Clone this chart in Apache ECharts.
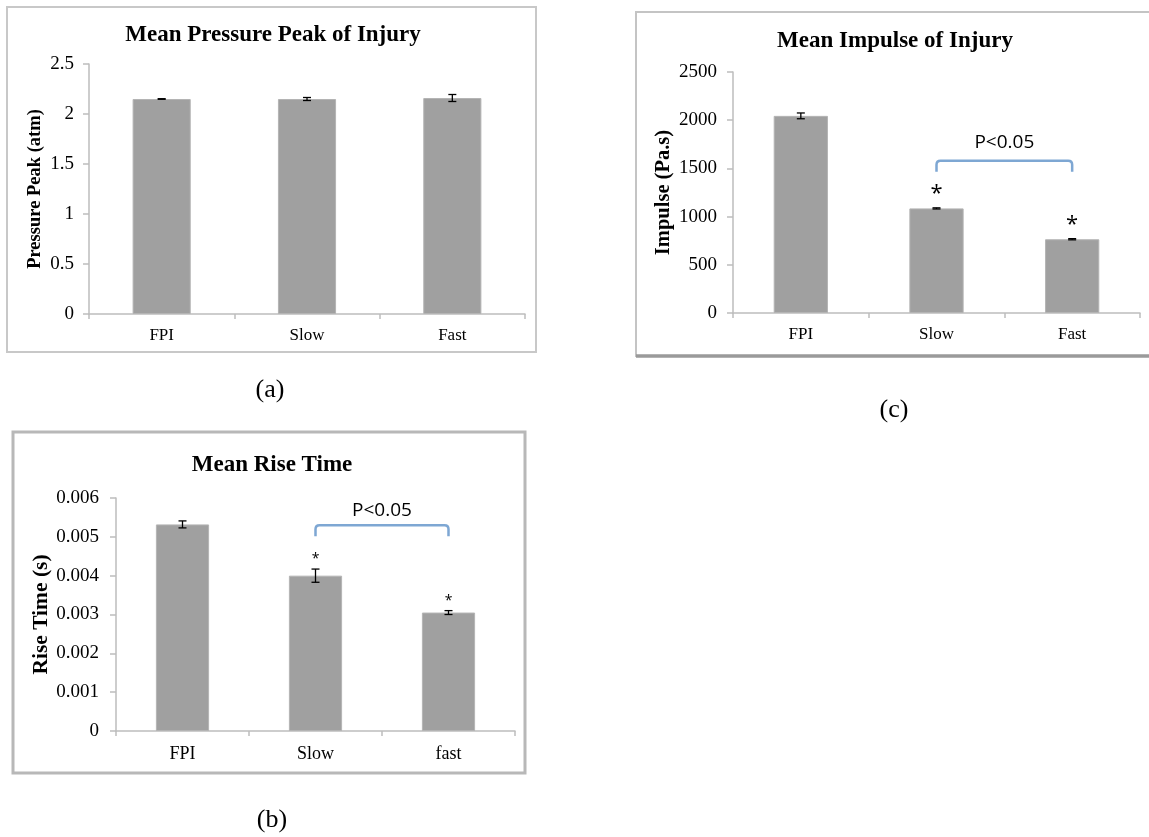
<!DOCTYPE html>
<html>
<head>
<meta charset="utf-8">
<script src="https://cdn.jsdelivr.net/npm/echarts@6/dist/echarts.min.js"></script>
<style>
html,body{margin:0;padding:0;background:#fff;}
#chart{width:1149px;height:837px;}
</style>
</head>
<body>
<div id="chart"></div>
<script>
// ---- data ----
const catsA = ['FPI', 'Slow', 'Fast'];
const meanA = [2.15, 2.15, 2.16];
const errA = [0.003, 0.015, 0.035];

const catsC = ['FPI', 'Slow', 'Fast'];
const meanC = [2045, 1085, 765];
const errC = [30, 6, 6];
const starsC = ['', '*', '*'];
const bracketC = [1, 2, 1580];

const catsB = ['FPI', 'Slow', 'fast'];
const meanB = [0.00532, 0.00400, 0.00305];
const errB = [0.00009, 0.00017, 0.00005];
const starsB = ['', '*', '*'];
const bracketB = [1, 2, 0.0053];

const sigText = 'P<0.05';
const titles = ['Mean Pressure Peak of Injury', 'Mean Impulse of Injury', 'Mean Rise Time'];
const yNames = ['Pressure Peak (atm)', 'Impulse (Pa.s)', 'Rise Time (s)'];
const panelTags = ['(a)', '(c)', '(b)'];

// ---- styles ----
const SERIF = 'Liberation Serif, Times New Roman, serif';
const SANS = 'Open Sans, Liberation Sans, sans-serif';
const AXIS = '#bdbdbd';
const BAR = '#a0a0a0';
const BLUE = '#7ea7d3';

const chart = echarts.init(document.getElementById('chart'), null, {renderer: 'canvas'});

function errRender(params, api) {
  const x = api.value(0);
  const lo = api.coord([x, api.value(1)]);
  const hi = api.coord([x, api.value(2)]);
  const h = 4;
  const st = {stroke: '#000', lineWidth: 1.3};
  return {type: 'group', children: [
    {type: 'line', shape: {x1: hi[0], y1: hi[1], x2: lo[0], y2: lo[1]}, style: st},
    {type: 'line', shape: {x1: hi[0] - h, y1: hi[1], x2: hi[0] + h, y2: hi[1]}, style: st},
    {type: 'line', shape: {x1: lo[0] - h, y1: lo[1], x2: lo[0] + h, y2: lo[1]}, style: st}
  ]};
}
function starRender(stars, size, gap) {
  return function (params, api) {
    const p = api.coord([api.value(0), api.value(1)]);
    return {type: 'text', x: p[0], y: p[1] - gap, style: {
      text: stars[params.dataIndex], fill: '#000', font: size + 'px ' + SANS,
      textAlign: 'center', textVerticalAlign: 'bottom'}};
  };
}
function bracketRender(textGap) {
  return function (params, api) {
    const a = api.coord([api.value(0), api.value(2)]);
    const b = api.coord([api.value(1), api.value(2)]);
    const y = a[1], x1 = a[0], x2 = b[0], r = 4, leg = 11;
    const d = 'M' + x1 + ' ' + (y + leg) + ' L' + x1 + ' ' + (y + r) + ' Q' + x1 + ' ' + y + ' ' + (x1 + r) + ' ' + y +
      ' L' + (x2 - r) + ' ' + y + ' Q' + x2 + ' ' + y + ' ' + x2 + ' ' + (y + r) + ' L' + x2 + ' ' + (y + leg);
    return {type: 'group', children: [
      {type: 'path', shape: {pathData: d}, style: {stroke: BLUE, lineWidth: 2.5, fill: null}},
      {type: 'text', x: (x1 + x2) / 2, y: y - textGap, style: {text: sigText, fill: '#000',
        font: '19px ' + SANS, textAlign: 'center', textVerticalAlign: 'middle'}}
    ]};
  };
}

function xAx(gi, cats, fs, margin) {
  return {gridIndex: gi, type: 'category', data: cats,
    axisLine: {show: true, lineStyle: {color: AXIS, width: 1.5}},
    axisTick: {show: true, length: 5, lineStyle: {color: AXIS, width: 1.5}},
    axisLabel: {color: '#000', fontFamily: SERIF, fontSize: fs, margin: margin},
    splitLine: {show: false}};
}
function yAx(gi, max, interval, fs, margin, name, nfs, gap) {
  return {gridIndex: gi, type: 'value', min: 0, max: max, interval: interval,
    axisLine: {show: true, lineStyle: {color: AXIS, width: 1.5}},
    axisTick: {show: true, length: 6, lineStyle: {color: AXIS, width: 1.5}},
    axisLabel: {color: '#000', fontFamily: SERIF, fontSize: fs, margin: margin,
      formatter: function (v) { return String(v); }},
    splitLine: {show: false},
    name: name, nameLocation: 'middle', nameGap: gap, nameRotate: 90,
    nameTextStyle: {color: '#000', fontFamily: SERIF, fontWeight: 'bold', fontSize: nfs}};
}
function barS(gi, vals) {
  return {type: 'bar', xAxisIndex: gi, yAxisIndex: gi, data: vals, barWidth: '40%',
    itemStyle: {color: BAR, borderColor: '#b4b4b4', borderWidth: 1}, z: 2, silent: true};
}
function errS(gi, mean, err) {
  return {type: 'custom', xAxisIndex: gi, yAxisIndex: gi, z: 4, silent: true,
    data: mean.map((m, i) => [i, m - err[i], m + err[i]]),
    encode: {x: 0, y: [1, 2]}, renderItem: errRender};
}
function starS(gi, mean, err, stars, size, gap) {
  return {type: 'custom', xAxisIndex: gi, yAxisIndex: gi, z: 4, silent: true,
    data: mean.map((m, i) => [i, m + err[i]]),
    encode: {x: 0, y: 1}, renderItem: starRender(stars, size, gap)};
}
function brS(gi, br, textGap) {
  return {type: 'custom', xAxisIndex: gi, yAxisIndex: gi, z: 4, silent: true,
    data: [br], encode: {x: [0, 1], y: 2}, renderItem: bracketRender(textGap)};
}

const option = {
  backgroundColor: '#fff',
  animation: false,
  grid: [
    {left: 89, top: 64, width: 436, height: 250, containLabel: false, outerBoundsMode: 'none'},
    {left: 733, top: 72, width: 407, height: 241, containLabel: false, outerBoundsMode: 'none'},
    {left: 116, top: 498, width: 399, height: 233, containLabel: false, outerBoundsMode: 'none'}
  ],
  xAxis: [xAx(0, catsA, 17, 13), xAx(1, catsC, 17, 13), xAx(2, catsB, 18, 14)],
  yAxis: [
    yAx(0, 2.5, 0.5, 19, 15, yNames[0], 18.5, 44),
    yAx(1, 2500, 500, 19, 16, yNames[1], 20.5, 59),
    yAx(2, 0.006, 0.001, 19, 17, yNames[2], 21.5, 62)
  ],
  series: [
    barS(0, meanA), errS(0, meanA, errA),
    barS(1, meanC), errS(1, meanC, errC), starS(1, meanC, errC, starsC, 22, 3), brS(1, bracketC, 18),
    barS(2, meanB), errS(2, meanB, errB), starS(2, meanB, errB, starsB, 14, 3), brS(2, bracketB, 15)
  ],
  graphic: [
    {type: 'rect', z: -1, silent: true, shape: {x: 7, y: 7, width: 529, height: 345}, style: {fill: null, stroke: '#c8c8c8', lineWidth: 2}},
    {type: 'rect', z: -1, silent: true, shape: {x: 636, y: 12, width: 600, height: 344}, style: {fill: null, stroke: '#c4c4c4', lineWidth: 2}},
    {type: 'line', z: -1, silent: true, shape: {x1: 636, y1: 356, x2: 1149, y2: 356}, style: {stroke: '#9a9a9a', lineWidth: 3.5}},
    {type: 'rect', z: -1, silent: true, shape: {x: 13, y: 432, width: 512, height: 341}, style: {fill: null, stroke: '#b8b8b8', lineWidth: 3}},
    {type: 'text', x: 273, y: 35, style: {text: titles[0], font: 'bold 23px ' + SERIF, fill: '#000', textAlign: 'center', textVerticalAlign: 'middle'}},
    {type: 'text', x: 895, y: 41, style: {text: titles[1], font: 'bold 23px ' + SERIF, fill: '#000', textAlign: 'center', textVerticalAlign: 'middle'}},
    {type: 'text', x: 272, y: 465, style: {text: titles[2], font: 'bold 23px ' + SERIF, fill: '#000', textAlign: 'center', textVerticalAlign: 'middle'}},
    {type: 'text', x: 270, y: 390, style: {text: panelTags[0], font: '26px ' + SERIF, fill: '#000', textAlign: 'center', textVerticalAlign: 'middle'}},
    {type: 'text', x: 894, y: 410, style: {text: panelTags[1], font: '26px ' + SERIF, fill: '#000', textAlign: 'center', textVerticalAlign: 'middle'}},
    {type: 'text', x: 272, y: 820, style: {text: panelTags[2], font: '26px ' + SERIF, fill: '#000', textAlign: 'center', textVerticalAlign: 'middle'}}
  ]
};
chart.setOption(option);
</script>
</body>
</html>
